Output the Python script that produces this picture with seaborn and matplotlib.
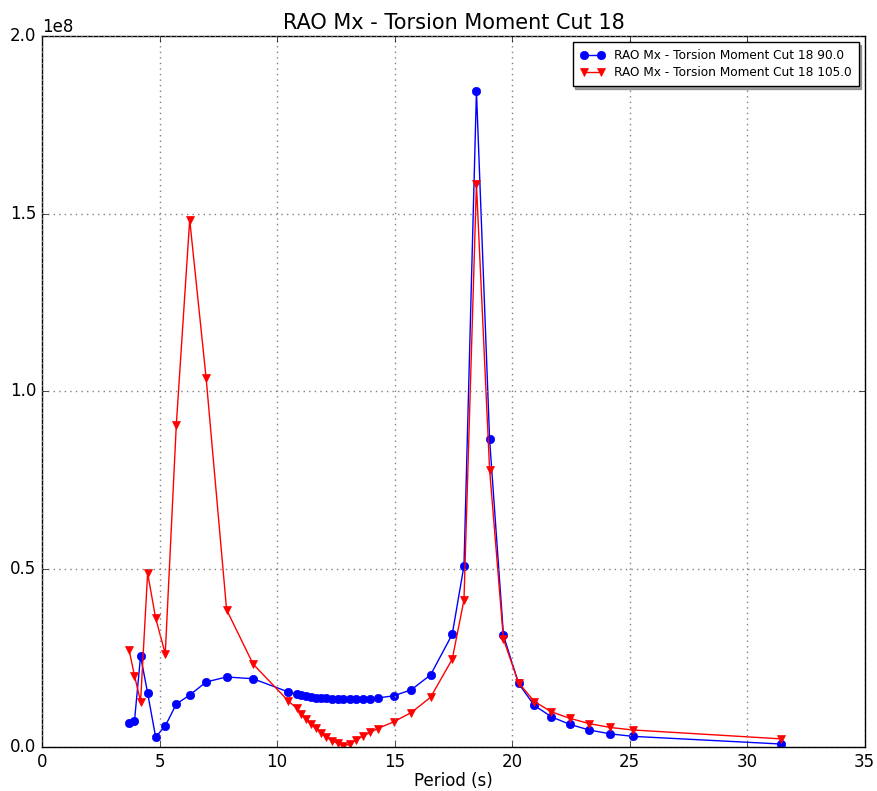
import matplotlib
matplotlib.use("Agg")
import matplotlib.pyplot as plt
import seaborn as sns
import pandas as pd

# Wave periods (s) shared by both headings
periods = [3.70, 3.93, 4.19, 4.49, 4.83, 5.24, 5.71, 6.28, 6.98, 7.85, 8.98,
           10.47, 10.83, 11.02, 11.22, 11.42, 11.64, 11.86, 12.08, 12.32, 12.57,
           12.82, 13.09, 13.37, 13.66, 13.96, 14.28, 14.96, 15.71, 16.53, 17.45,
           17.95, 18.48, 19.04, 19.63, 20.27, 20.94, 21.67, 22.44, 23.27, 24.17,
           25.13, 31.42]

# Torsion moment RAO, heading 90 deg (units of 1e7)
rao_90 = [0.68, 0.73, 2.56, 1.52, 0.28, 0.59, 1.21, 1.46, 1.83, 1.97, 1.92,
          1.55, 1.49, 1.45, 1.43, 1.41, 1.39, 1.38, 1.37, 1.36, 1.35,
          1.35, 1.35, 1.35, 1.35, 1.36, 1.38, 1.44, 1.61, 2.03, 3.17,
          5.10, 18.45, 8.65, 3.14, 1.79, 1.17, 0.85, 0.64, 0.48, 0.37,
          0.30, 0.085]

# Torsion moment RAO, heading 105 deg (units of 1e7)
rao_105 = [2.73, 2.01, 1.28, 4.89, 3.63, 2.62, 9.06, 14.83, 10.37, 3.86, 2.33,
           1.30, 1.09, 0.93, 0.78, 0.65, 0.53, 0.40, 0.29, 0.18, 0.10,
           0.04, 0.08, 0.20, 0.31, 0.41, 0.52, 0.71, 0.97, 1.40, 2.47,
           4.14, 15.83, 7.80, 3.03, 1.81, 1.28, 0.99, 0.81, 0.66, 0.55,
           0.48, 0.23]

labels = ["RAO Mx - Torsion Moment Cut 18 90.0",
          "RAO Mx - Torsion Moment Cut 18 105.0"]

scale = 1e7
df90 = pd.DataFrame({"Period": periods, "RAO": [v * scale for v in rao_90]})
df105 = pd.DataFrame({"Period": periods, "RAO": [v * scale for v in rao_105]})

plt.style.use("classic")
fig = plt.figure(figsize=(8.77, 7.91), dpi=100, facecolor="white")
ax = fig.add_axes([0.048, 0.0556, 0.938, 0.899])

sns.lineplot(data=df90, x="Period", y="RAO", ax=ax, color="b", marker="o",
             markersize=6, markeredgecolor="b", markeredgewidth=0.5,
             linewidth=1.0, label=labels[0], sort=False)
sns.lineplot(data=df105, x="Period", y="RAO", ax=ax, color="r", marker="v",
             markersize=6, markeredgecolor="r", markeredgewidth=0.5,
             linewidth=1.0, label=labels[1], sort=False)

ax.set_xlim(0, 35)
ax.set_ylim(0, 2.0e8)
ax.set_xticks([0, 5, 10, 15, 20, 25, 30, 35])
ax.set_yticks([0, 0.5e8, 1.0e8, 1.5e8, 2.0e8])
ax.set_title("RAO Mx - Torsion Moment Cut 18", fontsize=15)
ax.set_xlabel("Period (s)", fontsize=12, labelpad=1)
ax.set_ylabel("")
ax.grid(True, color="gray", linestyle=":", linewidth=1.0)
ax.tick_params(labelsize=12)
ax.legend(loc="upper right", fontsize=8.7, shadow=True, numpoints=2,
          fancybox=False, borderpad=0.6, labelspacing=0.3)

fig.savefig("out.png", dpi=100, facecolor="white")
